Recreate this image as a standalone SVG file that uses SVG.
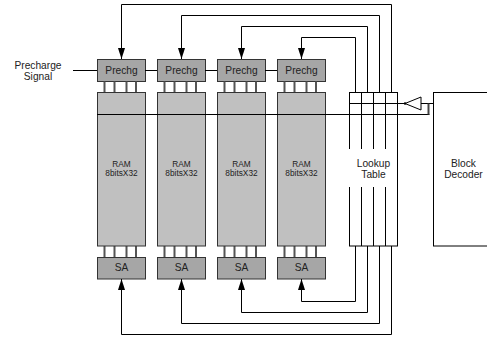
<svg xmlns="http://www.w3.org/2000/svg" width="487" height="343" viewBox="0 0 487 343">
<defs>
<marker id="arr" viewBox="0 0 11 7" refX="11" refY="3.5" markerWidth="11" markerHeight="7" markerUnits="userSpaceOnUse" orient="auto">
<path d="M0,0 L11,3.5 L0,7 Z" fill="#000"/>
</marker>
<style>
.box{stroke:#333;stroke-width:1}
.dk{fill:#a6a6a6}
.lt{fill:#c0c0c0}
.pin{stroke:#555;stroke-width:2}
.w{fill:none;stroke:#000;stroke-width:1}
text{font-family:"Liberation Sans",Arial,sans-serif;fill:#222;text-anchor:middle}
.t10{font-size:10.2px}
.t8{font-size:8.3px}
</style>
</defs>
<rect width="487" height="343" fill="#fff"/>
<g id="precharge-signal">
<text class="t10" x="38" y="68.5">Precharge</text>
<text class="t10" x="38" y="79.5">Signal</text>
</g>
<g id="col1">
<rect class="box dk" x="97.5" y="59.5" width="48" height="22"/>
<text class="t10" x="121.5" y="74">Prechg</text>
<path class="pin" d="M104.5 81.5V92M114.5 81.5V92M126.5 81.5V92M136 81.5V92M104.5 246V257M114.5 246V257M126.5 246V257M136 246V257"/>
<rect class="box lt" x="97.5" y="92.5" width="48" height="153.5"/>
<text class="t8" x="121.5" y="166.5">RAM</text>
<text class="t8" x="121.5" y="175.5">8bitsX32</text>
<rect class="box dk" x="97.5" y="257.5" width="48" height="21.5"/>
<text class="t10" x="121.5" y="271">SA</text>
</g>
<g id="col2">
<rect class="box dk" x="157.5" y="59.5" width="48" height="22"/>
<text class="t10" x="181.5" y="74">Prechg</text>
<path class="pin" d="M164.5 81.5V92M174.5 81.5V92M186.5 81.5V92M196 81.5V92M164.5 246V257M174.5 246V257M186.5 246V257M196 246V257"/>
<rect class="box lt" x="157.5" y="92.5" width="48" height="153.5"/>
<text class="t8" x="181.5" y="166.5">RAM</text>
<text class="t8" x="181.5" y="175.5">8bitsX32</text>
<rect class="box dk" x="157.5" y="257.5" width="48" height="21.5"/>
<text class="t10" x="181.5" y="271">SA</text>
</g>
<g id="col3">
<rect class="box dk" x="217.5" y="59.5" width="48" height="22"/>
<text class="t10" x="241.5" y="74">Prechg</text>
<path class="pin" d="M224.5 81.5V92M234.5 81.5V92M246.5 81.5V92M256 81.5V92M224.5 246V257M234.5 246V257M246.5 246V257M256 246V257"/>
<rect class="box lt" x="217.5" y="92.5" width="48" height="153.5"/>
<text class="t8" x="241.5" y="166.5">RAM</text>
<text class="t8" x="241.5" y="175.5">8bitsX32</text>
<rect class="box dk" x="217.5" y="257.5" width="48" height="21.5"/>
<text class="t10" x="241.5" y="271">SA</text>
</g>
<g id="col4">
<rect class="box dk" x="277.5" y="59.5" width="48" height="22"/>
<text class="t10" x="301.5" y="74">Prechg</text>
<path class="pin" d="M284.5 81.5V92M294.5 81.5V92M306.5 81.5V92M316 81.5V92M284.5 246V257M294.5 246V257M306.5 246V257M316 246V257"/>
<rect class="box lt" x="277.5" y="92.5" width="48" height="153.5"/>
<text class="t8" x="301.5" y="166.5">RAM</text>
<text class="t8" x="301.5" y="175.5">8bitsX32</text>
<rect class="box dk" x="277.5" y="257.5" width="48" height="21.5"/>
<text class="t10" x="301.5" y="271">SA</text>
</g>
<g id="lookup-table">
<rect x="349.5" y="92.5" width="48" height="153.5" fill="#fff" stroke="#000" stroke-width="1"/>
<path class="w" d="M361.5 92.5V246M373.5 92.5V246M385.5 92.5V246"/>
<rect x="348" y="149" width="49" height="38" fill="#fff"/>
<path class="w" d="M397.5 92.5V246"/>
<text class="t10" x="373.5" y="166.5">Lookup</text>
<text class="t10" x="373.5" y="177.5">Table</text>
</g>
<g id="block-decoder">
<rect x="433.5" y="92.5" width="70" height="153.5" fill="#fff" stroke="#000" stroke-width="1"/>
<text class="t10" x="463.5" y="166.5">Block</text>
<text class="t10" x="463.5" y="177.5">Decoder</text>
</g>
<g id="buffer">
<polygon points="405,103.5 421,97 421,110" fill="#fff" stroke="#000" stroke-width="1"/>
</g>
<g id="connectors">
<path class="w" d="M73 70.5H97M145 70.5H157M205 70.5H217M265 70.5H277"/>
<path class="w" d="M97 114.5H429.5"/>
<path class="w" d="M391.5 92V4.5H121.5V59" marker-end="url(#arr)"/>
<path class="w" d="M379.5 92V15.5H181.5V59" marker-end="url(#arr)"/>
<path class="w" d="M367.5 92V26.5H241.5V59" marker-end="url(#arr)"/>
<path class="w" d="M355.5 92V37.5H301.5V59" marker-end="url(#arr)"/>
<path class="w" d="M355.5 246V301.5H301.5V279" marker-end="url(#arr)"/>
<path class="w" d="M367.5 246V312.5H241.5V279" marker-end="url(#arr)"/>
<path class="w" d="M379.5 246V323.5H181.5V279" marker-end="url(#arr)"/>
<path class="w" d="M391.5 246V334.5H121.5V279" marker-end="url(#arr)"/>
<path class="w" d="M349.5 103.5H405M421 103.5H433.5"/>
<path d="M428.5 103.5V114.5" stroke="#444" stroke-width="2" fill="none"/>
<circle cx="405" cy="103.5" r="1.2" fill="#000"/>
</g>
</svg>
